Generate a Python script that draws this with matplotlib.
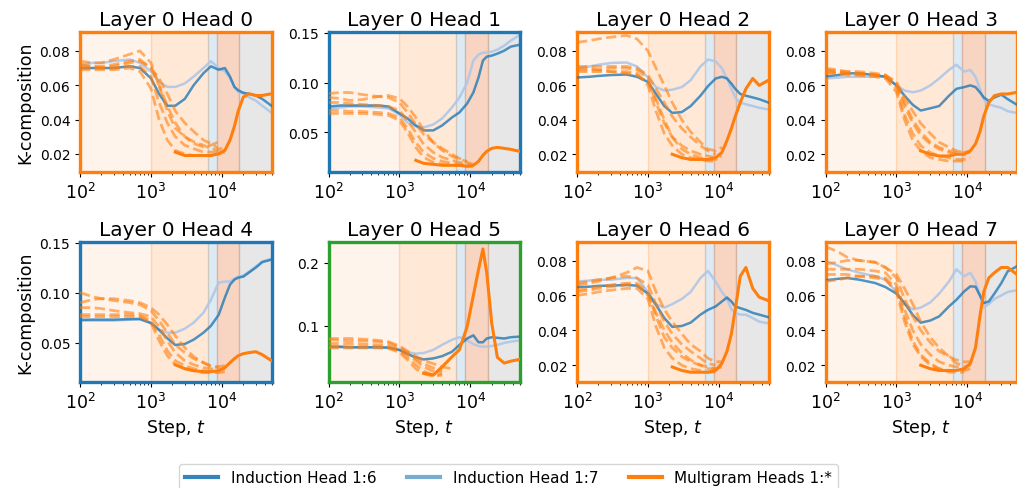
import numpy as np
import matplotlib
matplotlib.use("Agg")
import matplotlib.pyplot as plt
from matplotlib.lines import Line2D

N = None
STEPS = [100, 150, 200, 300, 500, 700, 1000, 1300, 1700, 2200, 3000, 4000, 5500,
         7000, 9000, 11000, 13000, 15000, 17000, 20000, 24000, 30000, 37000, 50000]

titles = [f"Layer 0 Head {i}" for i in range(8)]
frame_colors = ["#ff7f0e", "#1f77b4", "#ff7f0e", "#ff7f0e",
                "#1f77b4", "#2ca02c", "#ff7f0e", "#ff7f0e"]
ylims = [(0.0094, 0.091), (0.0103, 0.1507), (0.0097, 0.091), (0.0097, 0.091),
         (0.0107, 0.1506), (0.011, 0.233), (0.0104, 0.0906), (0.0104, 0.0906)]
yticks = [[0.02, 0.04, 0.06, 0.08], [0.05, 0.10, 0.15], [0.02, 0.04, 0.06, 0.08],
          [0.02, 0.04, 0.06, 0.08], [0.05, 0.10, 0.15], [0.1, 0.2],
          [0.02, 0.04, 0.06, 0.08], [0.02, 0.04, 0.06, 0.08]]
ytick_labels = [["0.02", "0.04", "0.06", "0.08"], ["0.05", "0.10", "0.15"],
                ["0.02", "0.04", "0.06", "0.08"], ["0.02", "0.04", "0.06", "0.08"],
                ["0.05", "0.10", "0.15"], ["0.1", "0.2"],
                ["0.02", "0.04", "0.06", "0.08"], ["0.02", "0.04", "0.06", "0.08"]]

# training phases (step boundaries) and their shading
phase_edges = [100, 1000, 6300, 8400, 17500, 50000]
phase_colors = ["#ff7f0e", "#ff7f0e", "#1f77b4", "#e8753a", "#7f7f7f"]
phase_alphas = [0.08, 0.17, 0.15, 0.30, 0.18]

# ---- Head 0 ----
ih6_h0 = [0.070, 0.070, 0.070, 0.070, 0.071, 0.070, 0.064, 0.055, 0.048, 0.048, 0.052, 0.060,
          0.067, 0.071, 0.069, 0.070, 0.065, 0.059, 0.057, 0.0556, 0.055, 0.054, 0.052, 0.048]
ih7_h0 = [0.072, 0.073, 0.073, 0.074, 0.075, 0.073, 0.068, 0.062, 0.059, 0.059, 0.061, 0.065,
          0.070, 0.074, 0.070, 0.068, 0.064, 0.059, 0.056, 0.055, 0.053, 0.051, 0.048, 0.044]
multi_h0 = [N, N, N, N, N, N, N, N, N, 0.021, 0.019, 0.019, 0.019, 0.019, 0.020, 0.022,
            0.028, 0.036, 0.045, 0.053, 0.055, 0.054, 0.054, 0.055]
dashed_h0 = [
    [0.074, 0.073, 0.073, 0.075, 0.078, 0.080, 0.073, 0.060, 0.045, 0.035, 0.030, 0.027, 0.025, 0.023, 0.022, 0.025],
    [0.072, 0.071, 0.071, 0.072, 0.074, 0.075, 0.070, 0.064, 0.055, 0.045, 0.038, 0.033, 0.028, 0.026, 0.023],
    [0.070, 0.070, 0.070, 0.070, 0.071, 0.071, 0.065, 0.050, 0.038, 0.030, 0.025, 0.023, 0.021, 0.021, 0.021, 0.022],
    [0.069, 0.069, 0.069, 0.069, 0.070, 0.068, 0.058, 0.040, 0.028, 0.022, 0.020, 0.019, 0.019, 0.019, 0.020, 0.021],
    [0.071, 0.071, 0.070, 0.071, 0.073, 0.074, 0.070, 0.060, 0.048, 0.038, 0.030, 0.026, 0.024, 0.025, 0.027],
]

# ---- Head 1 ----
ih6_h1 = [0.076, 0.077, 0.077, 0.077, 0.077, 0.076, 0.069, 0.064, 0.057, 0.052, 0.052, 0.057,
          0.065, 0.070, 0.079, 0.090, 0.105, 0.122, 0.126, 0.127, 0.129, 0.132, 0.136, 0.138]
ih7_h1 = [0.074, 0.075, 0.076, 0.076, 0.075, 0.074, 0.068, 0.060, 0.056, 0.055, 0.058, 0.064,
          0.075, 0.085, 0.100, 0.122, 0.128, 0.130, 0.130, 0.131, 0.133, 0.137, 0.142, 0.148]
multi_h1 = [N, N, N, N, N, N, N, N, 0.022, 0.019, 0.018, 0.017, 0.017, 0.017, 0.016, 0.017,
            0.021, 0.027, 0.031, 0.034, 0.035, 0.034, 0.033, 0.031]
dashed_h1 = [
    [0.089, 0.090, 0.090, 0.088, 0.086, 0.085, 0.080, 0.070, 0.058, 0.048, 0.040, 0.034, 0.028, 0.024, 0.020, 0.018],
    [0.085, 0.084, 0.082, 0.083, 0.086, 0.087, 0.084, 0.076, 0.065, 0.052, 0.040, 0.032, 0.026, 0.023, 0.021],
    [0.080, 0.080, 0.079, 0.078, 0.077, 0.076, 0.072, 0.062, 0.050, 0.038, 0.030, 0.025, 0.022, 0.020, 0.018, 0.017],
    [0.072, 0.072, 0.071, 0.071, 0.070, 0.069, 0.065, 0.054, 0.040, 0.030, 0.024, 0.021, 0.019, 0.018, 0.017],
    [0.069, 0.069, 0.069, 0.069, 0.068, 0.067, 0.062, 0.050, 0.035, 0.025, 0.020, 0.018, 0.017, 0.017, 0.016, 0.016],
]

# ---- Head 2 ----
ih6_h2 = [0.0646, 0.065, 0.0655, 0.066, 0.0663, 0.065, 0.062, 0.055, 0.048, 0.044, 0.0445, 0.048,
          0.054, 0.0595, 0.064, 0.065, 0.064, 0.061, 0.058, 0.055, 0.054, 0.053, 0.052, 0.050]
ih7_h2 = [0.070, 0.071, 0.072, 0.073, 0.0733, 0.071, 0.0646, 0.059, 0.057, 0.0575, 0.059, 0.063,
          0.071, 0.075, 0.074, 0.070, 0.064, 0.058, 0.053, 0.050, 0.049, 0.048, 0.047, 0.046]
multi_h2 = [N, N, N, N, N, N, N, N, N, 0.020, 0.018, 0.017, 0.017, 0.017, 0.018, 0.021,
            0.028, 0.035, 0.042, 0.050, 0.058, 0.064, 0.060, 0.063]
dashed_h2 = [
    [0.085, 0.086, 0.087, 0.088, 0.089, 0.087, 0.080, 0.070, 0.060, 0.050, 0.040, 0.033, 0.027, 0.023, 0.022, 0.024],
    [0.071, 0.071, 0.071, 0.071, 0.071, 0.070, 0.066, 0.058, 0.050, 0.042, 0.035, 0.030, 0.025, 0.022, 0.020],
    [0.069, 0.069, 0.069, 0.070, 0.070, 0.069, 0.064, 0.050, 0.038, 0.030, 0.025, 0.022, 0.020, 0.019, 0.018, 0.019],
    [0.068, 0.068, 0.068, 0.068, 0.068, 0.067, 0.060, 0.045, 0.032, 0.025, 0.020, 0.018, 0.017, 0.016, 0.016],
    [0.070, 0.070, 0.069, 0.068, 0.067, 0.066, 0.062, 0.052, 0.040, 0.030, 0.023, 0.020, 0.018, 0.017, 0.017, 0.018],
]

# ---- Head 3 ----
ih6_h3 = [0.0652, 0.066, 0.067, 0.067, 0.066, 0.065, 0.060, 0.054, 0.0487, 0.0454, 0.0467, 0.048,
          0.054, 0.058, 0.059, 0.060, 0.059, 0.056, 0.053, 0.051, 0.053, 0.0546, 0.052, 0.0487]
ih7_h3 = [0.064, 0.0645, 0.065, 0.065, 0.065, 0.065, 0.060, 0.057, 0.056, 0.057, 0.060, 0.064,
          0.069, 0.072, 0.068, 0.069, 0.065, 0.058, 0.052, 0.049, 0.048, 0.047, 0.045, 0.044]
multi_h3 = [N, N, N, N, N, N, N, N, N, 0.022, 0.020, 0.019, 0.019, 0.020, 0.020, 0.022,
            0.026, 0.033, 0.042, 0.050, 0.054, 0.055, 0.055, 0.056]
dashed_h3 = [
    [0.070, 0.069, 0.068, 0.067, 0.066, 0.066, 0.062, 0.053, 0.045, 0.038, 0.032, 0.027, 0.024, 0.022, 0.021, 0.021],
    [0.069, 0.068, 0.067, 0.067, 0.066, 0.065, 0.060, 0.048, 0.038, 0.031, 0.026, 0.023, 0.021, 0.020, 0.020],
    [0.068, 0.067, 0.067, 0.066, 0.066, 0.065, 0.058, 0.043, 0.032, 0.025, 0.021, 0.019, 0.018, 0.017, 0.017, 0.018],
    [0.067, 0.067, 0.066, 0.066, 0.065, 0.064, 0.056, 0.040, 0.028, 0.022, 0.018, 0.017, 0.016, 0.016, 0.016],
    [0.069, 0.068, 0.068, 0.068, 0.067, 0.066, 0.061, 0.050, 0.040, 0.033, 0.027, 0.024, 0.022, 0.021, 0.021, 0.022],
]

# ---- Head 4 ----
ih6_h4 = [0.0728, 0.073, 0.073, 0.073, 0.0735, 0.0738, 0.0695, 0.0628, 0.0544, 0.0477, 0.0487, 0.053,
          0.060, 0.0668, 0.0778, 0.095, 0.108, 0.113, 0.115, 0.116, 0.120, 0.125, 0.1305, 0.133]
ih7_h4 = [0.072, 0.072, 0.072, 0.072, 0.073, 0.073, 0.070, 0.063, 0.060, 0.060, 0.064, 0.070,
          0.080, 0.093, 0.110, 0.111, 0.111, 0.114, 0.116, 0.117, 0.121, 0.126, 0.131, 0.134]
multi_h4 = [N, N, N, N, N, N, N, N, N, 0.028, 0.024, 0.022, 0.021, 0.021, 0.022, 0.025,
            0.030, 0.034, 0.037, 0.039, 0.040, 0.041, 0.038, 0.032]
dashed_h4 = [
    [0.100, 0.096, 0.094, 0.092, 0.090, 0.088, 0.082, 0.072, 0.060, 0.048, 0.040, 0.034, 0.030, 0.027, 0.026, 0.027],
    [0.090, 0.093, 0.094, 0.094, 0.092, 0.090, 0.085, 0.078, 0.068, 0.057, 0.045, 0.036, 0.030, 0.026, 0.025],
    [0.085, 0.085, 0.084, 0.082, 0.080, 0.079, 0.076, 0.066, 0.052, 0.040, 0.032, 0.028, 0.025, 0.024, 0.023, 0.024],
    [0.078, 0.078, 0.078, 0.078, 0.078, 0.077, 0.072, 0.058, 0.042, 0.032, 0.027, 0.024, 0.022, 0.021, 0.021],
    [0.076, 0.076, 0.076, 0.076, 0.076, 0.076, 0.070, 0.052, 0.037, 0.028, 0.024, 0.022, 0.020, 0.020, 0.020, 0.021],
]

# ---- Head 5 ----
ih6_h5 = [0.067, 0.067, 0.066, 0.066, 0.066, 0.0654, 0.0617, 0.0553, 0.050, 0.0468, 0.0484, 0.052,
          0.059, 0.0697, 0.080, 0.085, 0.074, 0.074, 0.080, 0.082, 0.081, 0.080, 0.082, 0.083]
ih7_h5 = [0.066, 0.066, 0.066, 0.066, 0.066, 0.066, 0.062, 0.058, 0.056, 0.057, 0.062, 0.070,
          0.078, 0.082, 0.077, 0.071, 0.068, 0.067, 0.067, 0.068, 0.070, 0.073, 0.075, 0.077]
multi_h5 = [N, N, N, N, N, N, N, N, N, 0.025, 0.022, 0.035, 0.051, 0.062, 0.099, 0.148,
            0.189, 0.222, 0.184, 0.104, 0.050, 0.041, 0.044, 0.047]
dashed_h5 = [
    [0.080, 0.080, 0.080, 0.079, 0.077, 0.075, 0.068, 0.060, 0.052, 0.045, 0.040, 0.035, 0.032],
    [0.078, 0.077, 0.076, 0.076, 0.075, 0.073, 0.066, 0.058, 0.048, 0.040, 0.033, 0.030],
    [0.072, 0.072, 0.072, 0.071, 0.070, 0.069, 0.063, 0.055, 0.045, 0.035, 0.028, 0.027],
    [0.067, 0.067, 0.067, 0.067, 0.067, 0.066, 0.060, 0.050, 0.038, 0.028, 0.022, 0.024],
    [0.065, 0.065, 0.065, 0.065, 0.065, 0.064, 0.058, 0.046, 0.032, 0.024, 0.020, 0.022],
]

# ---- Head 6 ----
ih6_h6 = [0.0648, 0.065, 0.0655, 0.0656, 0.066, 0.0656, 0.061, 0.0546, 0.047, 0.042, 0.0425, 0.0444,
          0.049, 0.0517, 0.0537, 0.0565, 0.0588, 0.0565, 0.0537, 0.0527, 0.0517, 0.050, 0.049, 0.0475]
ih7_h6 = [0.068, 0.0685, 0.069, 0.069, 0.070, 0.070, 0.062, 0.055, 0.053, 0.055, 0.058, 0.062,
          0.070, 0.074, 0.068, 0.062, 0.058, 0.052, 0.050, 0.049, 0.049, 0.047, 0.045, 0.044]
multi_h6 = [N, N, N, N, N, N, N, N, N, 0.019, 0.017, 0.016, 0.016, 0.016, 0.017, 0.021,
            0.028, 0.038, 0.052, 0.071, 0.076, 0.064, 0.059, 0.057]
dashed_h6 = [
    [0.066, 0.067, 0.068, 0.070, 0.073, 0.076, 0.074, 0.062, 0.052, 0.045, 0.038, 0.032, 0.028, 0.024, 0.022, 0.022],
    [0.067, 0.068, 0.069, 0.070, 0.071, 0.070, 0.066, 0.055, 0.045, 0.038, 0.032, 0.028, 0.024, 0.021, 0.020],
    [0.063, 0.064, 0.065, 0.066, 0.067, 0.067, 0.062, 0.048, 0.036, 0.030, 0.025, 0.022, 0.020, 0.018, 0.018, 0.019],
    [0.060, 0.061, 0.062, 0.063, 0.064, 0.064, 0.058, 0.042, 0.030, 0.024, 0.020, 0.018, 0.017, 0.016, 0.016],
    [0.062, 0.063, 0.064, 0.065, 0.066, 0.066, 0.060, 0.050, 0.040, 0.033, 0.027, 0.023, 0.020, 0.019, 0.018, 0.019],
]

# ---- Head 7 ----
ih6_h7 = [0.0687, 0.0695, 0.070, 0.069, 0.0671, 0.0648, 0.061, 0.0556, 0.0488, 0.0444, 0.0456, 0.048,
          0.0537, 0.0575, 0.0623, 0.0652, 0.065, 0.060, 0.0556, 0.0565, 0.061, 0.067, 0.0738, 0.0767]
ih7_h7 = [0.080, 0.077, 0.075, 0.073, 0.071, 0.069, 0.062, 0.055, 0.052, 0.053, 0.056, 0.061,
          0.068, 0.075, 0.071, 0.073, 0.068, 0.060, 0.053, 0.055, 0.058, 0.060, 0.062, 0.063]
multi_h7 = [N, N, N, N, N, N, N, N, N, 0.020, 0.018, 0.017, 0.017, 0.017, 0.018, 0.021,
            0.030, 0.048, 0.062, 0.070, 0.073, 0.076, 0.076, 0.072]
dashed_h7 = [
    [0.088, 0.085, 0.082, 0.080, 0.079, 0.076, 0.070, 0.058, 0.048, 0.040, 0.033, 0.028, 0.025, 0.023, 0.022, 0.022],
    [0.078, 0.079, 0.080, 0.080, 0.079, 0.076, 0.072, 0.064, 0.055, 0.045, 0.036, 0.030, 0.025, 0.021, 0.020],
    [0.075, 0.075, 0.075, 0.075, 0.074, 0.073, 0.066, 0.052, 0.040, 0.032, 0.026, 0.022, 0.020, 0.019, 0.019, 0.020],
    [0.068, 0.069, 0.070, 0.071, 0.071, 0.070, 0.064, 0.048, 0.034, 0.026, 0.021, 0.018, 0.016, 0.016, 0.016],
    [0.072, 0.072, 0.072, 0.071, 0.070, 0.069, 0.062, 0.045, 0.032, 0.025, 0.020, 0.018, 0.017, 0.017, 0.017, 0.018],
]

IH6 = [ih6_h0, ih6_h1, ih6_h2, ih6_h3, ih6_h4, ih6_h5, ih6_h6, ih6_h7]
IH7 = [ih7_h0, ih7_h1, ih7_h2, ih7_h3, ih7_h4, ih7_h5, ih7_h6, ih7_h7]
MULTI = [multi_h0, multi_h1, multi_h2, multi_h3, multi_h4, multi_h5, multi_h6, multi_h7]
DASHED = [dashed_h0, dashed_h1, dashed_h2, dashed_h3, dashed_h4, dashed_h5, dashed_h6, dashed_h7]

legend_labels = ["Induction Head 1:6", "Induction Head 1:7", "Multigram Heads 1:*"]

plt.rcParams["font.family"] = ["DejaVu Sans"]
fig = plt.figure(figsize=(10.17, 4.89), dpi=100)

W, H = 1017.0, 489.0
col_left = [80, 328.5, 577, 825.5]
col_w = 191.5
row_top = [33, 243]
row_h = 140

steps = np.array(STEPS, dtype=float)
axes = []
for i in range(8):
    r, c = divmod(i, 4)
    ax = fig.add_axes([col_left[c] / W, 1 - (row_top[r] + row_h) / H, col_w / W, row_h / H])
    axes.append(ax)
    ax.set_xscale("log")
    for k in range(len(phase_colors)):
        ax.axvspan(phase_edges[k], phase_edges[k + 1], color=phase_colors[k],
                   alpha=phase_alphas[k], zorder=0, lw=1)
    ax.plot(steps, IH6[i], color="#1f77b4", alpha=0.78, lw=1.8, zorder=3)
    ax.plot(steps, IH7[i], color="#aec7e8", alpha=0.9, lw=1.8, zorder=2)
    for d in DASHED[i]:
        ax.plot(steps[:len(d)], d, ls="--", color="#ff7f0e", alpha=0.6, lw=2, zorder=4)
    m = np.array([np.nan if v is None else v for v in MULTI[i]], dtype=float)
    ax.plot(steps, m, color="#ff7f0e", lw=2.2, zorder=5)
    ax.set_xlim(100, 50000)
    ax.set_ylim(*ylims[i])
    ax.set_yticks(yticks[i])
    ax.set_yticklabels(ytick_labels[i])
    ax.tick_params(axis="y", labelsize=10)
    ax.tick_params(axis="x", labelsize=12.5)
    for s in ax.spines.values():
        s.set_color(frame_colors[i])
        s.set_linewidth(2.4)
    ax.set_title(titles[i], fontsize=14.5, pad=5)
    if c == 0:
        ax.set_ylabel("K-composition", fontsize=12.5)
    if r == 1:
        ax.set_xlabel("Step, $t$", fontsize=12.5)

handles = [Line2D([], [], color="#1f77b4", lw=3, alpha=0.9),
           Line2D([], [], color="#1f77b4", lw=3, alpha=0.6),
           Line2D([], [], color="#ff7f0e", lw=3)]
fig.legend(handles, legend_labels, loc="upper center", bbox_to_anchor=(0.5, 1 - 465 / H),
           borderaxespad=0.0, ncol=3, fontsize=11, columnspacing=2.0, handlelength=2.2,
           frameon=True)

fig.savefig("out.png", dpi=100)
